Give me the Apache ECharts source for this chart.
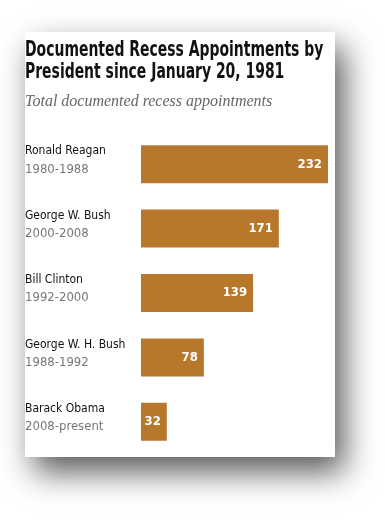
<!DOCTYPE html>
<html>
<head>
<meta charset="utf-8">
<script src="https://cdn.jsdelivr.net/npm/echarts@6/dist/echarts.min.js"></script>
<style>
html,body{margin:0;padding:0;background:#fff;}
#c{width:385px;height:522px;}
</style>
</head>
<body>
<div id="c"></div>
<script>
var presidents = ['Ronald Reagan', 'George W. Bush', 'Bill Clinton', 'George W. H. Bush', 'Barack Obama'];
var terms = ['1980-1988', '2000-2008', '1992-2000', '1988-1992', '2008-present'];
var appointments = [232, 171, 139, 78, 32];
var titleLines = ['Documented Recess Appointments by', 'President since January 20, 1981'];
var subtitleText = 'Total documented recess appointments';

var condensed = '"DejaVu Sans Condensed", "Liberation Sans Narrow", sans-serif';
var chart = echarts.init(document.getElementById('c'), null, {renderer: 'canvas'});

var titleGraphics = titleLines.map(function (t, i) {
  return {
    type: 'text',
    x: 25, y: 50 + i * 22,
    scaleX: 0.705,
    z: 10,
    style: {
      text: t, x: 0, y: 0, verticalAlign: 'middle', align: 'left',
      fill: '#111', font: 'bold 22px ' + condensed
    }
  };
});

chart.setOption({
  animation: false,
  backgroundColor: '#ffffff',
  graphic: [{
    type: 'rect',
    z: -100,
    shape: {x: 25, y: 32, width: 310, height: 425},
    style: {fill: '#ffffff', shadowBlur: 30, shadowOffsetX: 9, shadowOffsetY: 15, shadowColor: 'rgba(0,0,0,0.65)'}
  }].concat(titleGraphics),
  title: [{
    text: subtitleText,
    left: 25, top: 94,
    padding: 0,
    textStyle: {fontFamily: '"Liberation Serif", "DejaVu Serif", serif', fontStyle: 'italic', fontWeight: 'normal', fontSize: 16, color: '#666'}
  }],
  grid: {left: 141, top: 132, width: 187, height: 322, containLabel: false},
  xAxis: {
    type: 'value', min: 0, max: 232,
    show: false
  },
  yAxis: {
    type: 'category', inverse: true,
    data: presidents,
    axisLine: {show: false}, axisTick: {show: false}, splitLine: {show: false},
    axisLabel: {
      align: 'left', margin: 116,
      padding: [0, 0, 8, 0],
      formatter: function (v, i) { return '{n|' + v + '}\n{y|' + terms[i] + '}'; },
      rich: {
        n: {fontFamily: condensed, fontSize: 12, lineHeight: 18, color: '#111'},
        y: {fontFamily: condensed, fontSize: 13, lineHeight: 18, color: '#777'}
      }
    }
  },
  series: [{
    type: 'bar',
    data: appointments,
    barWidth: 38,
    itemStyle: {color: '#B8782C'},
    label: {
      show: true, position: 'insideRight', distance: 6,
      color: '#fff', fontFamily: condensed, fontWeight: 'bold', fontSize: 13
    }
  }]
});
</script>
</body>
</html>
